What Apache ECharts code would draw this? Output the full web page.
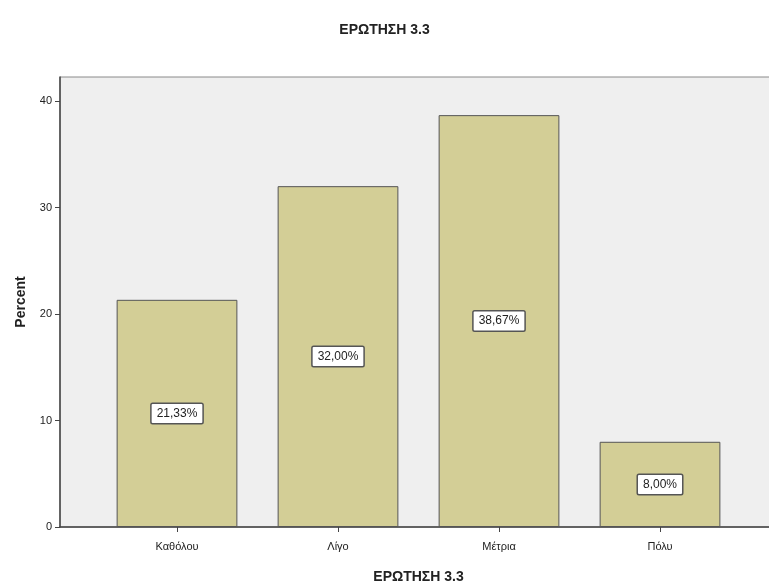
<!DOCTYPE html>
<html>
<head>
<meta charset="utf-8">
<script src="https://cdn.jsdelivr.net/npm/echarts@6/dist/echarts.min.js"></script>
<style>
  html, body { margin: 0; padding: 0; background: #fff; }
  #chart { width: 769px; height: 583px; }
</style>
</head>
<body>
<div id="chart"></div>
<script>
// ΕΡΩΤΗΣΗ 3.3 - percent per answer
const categories = ['Καθόλου', 'Λίγο', 'Μέτρια', 'Πόλυ']
const percents = [21.33, 32.00, 38.67, 8.00]
const yTicks = [0, 10, 20, 30, 40]
const yMax = 42.25

const font = 'Liberation Sans, Arial, sans-serif'

const chart = echarts.init(document.getElementById('chart'))

chart.setOption({
  animation: false,
  title: {
    text: 'ΕΡΩΤΗΣΗ 3.3',
    left: 'center',
    top: 18,
    textStyle: { fontFamily: font, fontSize: 14, fontWeight: 'bold', color: '#222' }
  },
  grid: [
    // frame with grey background
    {
      left: 60, right: -8, top: 77, bottom: 56,
      outerBoundsMode: 'none',
      show: true,
      backgroundColor: '#efefef',
      borderColor: '#8a8a8a',
      borderWidth: 1
    },
    // inner area where the bars sit
    { left: 96.5, right: 28.5, top: 77, bottom: 56, outerBoundsMode: 'none' }
  ],
  xAxis: [
    {
      gridIndex: 0,
      type: 'value',
      axisLine: { show: true, lineStyle: { color: '#444', width: 1.5 } },
      axisTick: { show: false },
      axisLabel: { show: false },
      splitLine: { show: false }
    },
    {
      gridIndex: 1,
      type: 'category',
      data: categories,
      axisLine: { show: false },
      axisTick: { show: true, alignWithLabel: true, length: 5, lineStyle: { color: '#444' } },
      axisLabel: { margin: 14, fontFamily: font, fontSize: 11, color: '#222' },
      name: 'ΕΡΩΤΗΣΗ 3.3',
      nameLocation: 'middle',
      nameGap: 43,
      nameTextStyle: { fontFamily: font, fontSize: 14, fontWeight: 'bold', color: '#222' }
    }
  ],
  yAxis: [
    {
      gridIndex: 0,
      type: 'value',
      min: 0,
      max: yMax,
      axisLine: { show: true, lineStyle: { color: '#444', width: 1.5 } },
      axisTick: { show: true, length: 5, customValues: yTicks, lineStyle: { color: '#444' } },
      axisLabel: { margin: 8, customValues: yTicks, fontFamily: font, fontSize: 11, color: '#222' },
      splitLine: { show: false },
      name: 'Percent',
      nameLocation: 'middle',
      nameGap: 32,
      nameTextStyle: { fontFamily: font, fontSize: 14, fontWeight: 'bold', color: '#222' }
    },
    {
      gridIndex: 1,
      type: 'value',
      min: 0,
      max: yMax,
      show: false,
      splitLine: { show: false }
    }
  ],
  series: [
    {
      type: 'bar',
      xAxisIndex: 1,
      yAxisIndex: 1,
      data: percents,
      barCategoryGap: '25%',
      itemStyle: { color: '#d3ce96', borderColor: '#555', borderWidth: 1 },
      label: {
        show: true,
        position: 'inside',
        formatter: p => p.value.toFixed(2).replace('.', ',') + '%',
        fontFamily: font,
        fontSize: 12,
        color: '#222',
        backgroundColor: '#fff',
        borderColor: '#555',
        borderWidth: 1.5,
        borderRadius: 1,
        padding: [4, 5, 3, 5]
      }
    }
  ]
})
</script>
</body>
</html>
